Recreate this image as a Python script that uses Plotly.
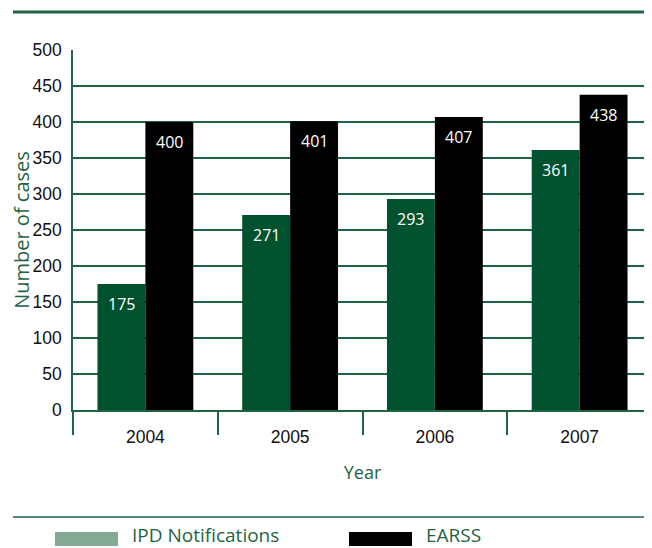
import plotly.graph_objects as go

# Data
years = ["2004", "2005", "2006", "2007"]
ipd = [175, 271, 293, 361]
earss = [400, 401, 407, 438]

green = "#00522e"
line_green = "#1f6442"
swatch_green = "#84aa96"
txt_font = "Open Sans"

fig = go.Figure()
fig.add_trace(go.Bar(x=years, y=ipd, name="IPD Notifications", marker_color=green,
                     marker_line_width=0))
fig.add_trace(go.Bar(x=years, y=earss, name="EARSS", marker_color="#000000",
                     marker_line_width=0))

# value labels inside the bars (x as category index)
for series, shift in [(ipd, -24), (earss, 24)]:
    for i, v in enumerate(series):
        fig.add_annotation(x=i, y=v, text=str(v), showarrow=False, xshift=shift, yshift=-20,
                           font=dict(family=txt_font, size=16, color="white"))

# page body has an 8px margin, so the figure is 8px smaller
fig.update_layout(
    width=644, height=540,
    margin=dict(l=65, r=0, t=42, b=138, autoexpand=False),
    plot_bgcolor="white", paper_bgcolor="white",
    barmode="group", bargap=0.338, bargroupgap=0,
    showlegend=False,
    font=dict(family="Liberation Sans", size=17, color="#111111"),
)

fig.update_xaxes(
    type="category",
    showline=True, linecolor=line_green, linewidth=1.5,
    ticks="outside", tickson="boundaries", ticklen=23, tickcolor=line_green, tickwidth=1.5,
    ticklabelstandoff=10,
    tickfont=dict(family="Liberation Sans", size=17.5, color="#111111"),
    title=dict(text="Year", font=dict(family=txt_font, size=18, color=line_green), standoff=21),
    showgrid=False,
)
fig.update_yaxes(
    range=[0, 500], dtick=50,
    showline=True, linecolor=line_green, linewidth=1.5,
    showgrid=True, gridcolor=line_green, gridwidth=1.5,
    zeroline=False,
    ticks="", ticklabelstandoff=6,
    tickfont=dict(family="Liberation Sans", size=17.5, color="#111111"),
    title=dict(text="Number of cases", font=dict(family=txt_font, size=20, color=line_green), standoff=11),
)

# frame lines top and bottom
fig.add_shape(type="line", xref="paper", yref="paper", x0=-0.1036, x1=1.0, y0=1.1056, y1=1.1056,
              line=dict(color=line_green, width=3))
fig.add_shape(type="line", xref="paper", yref="paper", x0=-0.1036, x1=1.0, y0=-0.2972, y1=-0.2972,
              line=dict(color=line_green, width=1.5))

# custom legend
fig.add_shape(type="rect", xref="paper", yref="paper", x0=-0.0311, x1=0.0777, y0=-0.3778, y1=-0.3389,
              fillcolor=swatch_green, line_width=0)
fig.add_shape(type="rect", xref="paper", yref="paper", x0=0.4767, x1=0.5855, y0=-0.3778, y1=-0.3389,
              fillcolor="#000000", line_width=0)
fig.add_annotation(xref="paper", yref="paper", x=0.1002, y=-0.3472, xanchor="left", yanchor="middle",
                   text="IPD Notifications", showarrow=False, borderpad=0,
                   font=dict(family=txt_font, size=19, color=line_green))
fig.add_annotation(xref="paper", yref="paper", x=0.6079, y=-0.3472, xanchor="left", yanchor="middle",
                   text="EARSS", showarrow=False, borderpad=0,
                   font=dict(family=txt_font, size=19, color=line_green))

fig.write_html("out.html")
